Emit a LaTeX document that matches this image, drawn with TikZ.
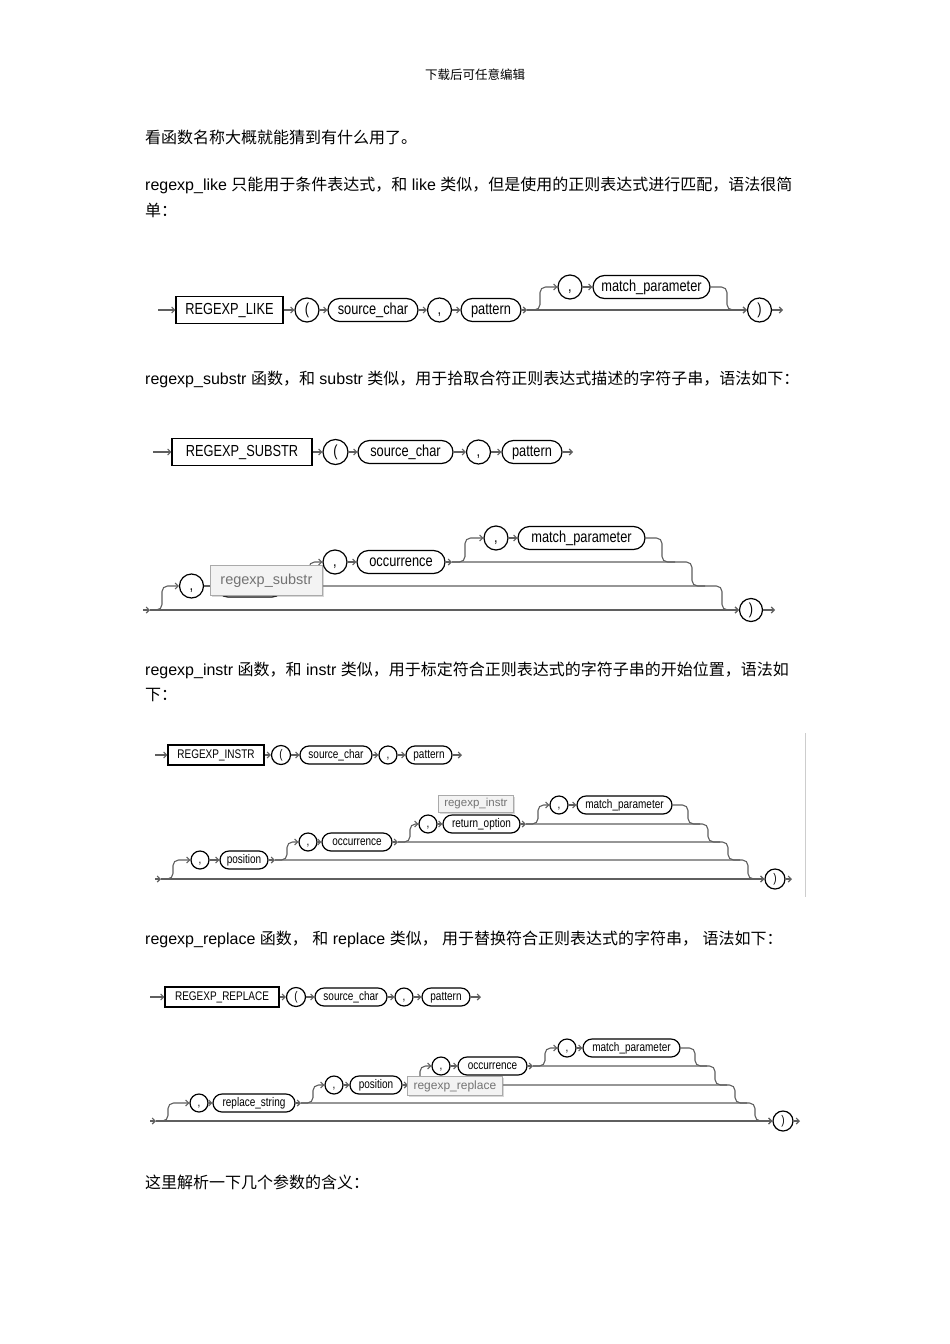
\documentclass[tikz,border=0pt]{standalone}
\usepackage{fontspec}
\setmainfont{Liberation Sans}
\newfontfamily\cjk{Noto Sans CJK SC}
\newfontfamily\rail[FakeStretch=0.8]{Liberation Sans}
\usetikzlibrary{arrows.meta}
\usetikzlibrary{shadows}
\definecolor{linegray}{RGB}{95,95,95}
\definecolor{tipfill}{RGB}{243,243,243}
\definecolor{tipedge}{RGB}{170,170,170}
\definecolor{tiptext}{RGB}{115,115,115}
\definecolor{rimgray}{RGB}{205,205,205}

\tikzset{
  para/.style={anchor=base west, inner sep=0pt, font=\fontsize{16}{19}\selectfont},
  bigrail/.style={font=\rail\fontsize{16}{16}\selectfont, text height=11.5pt, text depth=3.5pt},
  smallrail/.style={font=\rail\fontsize{12.5}{12.5}\selectfont, text height=9pt, text depth=2.8pt},
  kwbox/.style={draw, line width=1.1pt, inner sep=0pt},
  pill/.style={draw, line width=1.2pt, rounded corners=#1, inner sep=0pt},
  sym/.style={draw, line width=1.2pt, circle, inner sep=0pt},
  conn/.style={linegray, line width=1.1pt},
  arr/.style={conn, -{Straight Barb[length=3pt,width=6pt]}},
  turn/.style={rounded corners=5.5pt},
  tipbox/.style={fill=tipfill, draw=tipedge, line width=0.8pt, text=tiptext, inner sep=0pt,
    drop shadow={opacity=0.3, shadow xshift=2pt, shadow yshift=-2pt}},
}

\begin{document}
\begin{tikzpicture}[x=1pt, y=-1pt]

\path[fill=white] (0,0) rectangle (950,1344);

% page text
\node[anchor=base, inner sep=0pt, font=\cjk\fontsize{12.5}{14}\selectfont] (hdr) at (475,79) {下载后可任意编辑};
\node[para] (t1) at (145,143) {\cjk 看函数名称大概就能猜到有什么用了。};
\node[para] (t2) at (145,190) {regexp\_like {\cjk 只能用于条件表达式，和} like {\cjk 类似，但是使用的正则表达式进行匹配，语法很简}};
\node[para] (t3) at (145,216) {\cjk 单：};
\node[para] (t4) at (145,384) {regexp\_substr {\cjk 函数，和} substr {\cjk 类似，用于拾取合符正则表达式描述的字符子串，语法如下：}};
\node[para] (t5) at (145,675) {regexp\_instr {\cjk 函数，和} instr {\cjk 类似，用于标定符合正则表达式的字符子串的开始位置，语法如}};
\node[para] (t6) at (145,700) {\cjk 下：};
\node[para] (t7) at (145,944) {regexp\_replace {\cjk 函数，} {\cjk 和} replace {\cjk 类似，} {\cjk 用于替换符合正则表达式的字符串，} {\cjk 语法如下：}};
\node[para] (t8) at (145,1188) {\cjk 这里解析一下几个参数的含义：};

% regexp_like
\begin{scope}[every node/.append style={bigrail}]
\coordinate (likeIn) at (158,310);
\node[kwbox, minimum width=107pt, minimum height=27pt] (likeKw) at (229.5,310) {REGEXP\_LIKE};
\node[sym, minimum size=24pt] (likeLp) at (307,310) {(};
\node[pill=11.5pt, minimum width=90pt, minimum height=23pt] (likeSrc) at (373,310) {source\_char};
\node[sym, minimum size=24pt] (likeCm1) at (439.5,310) {,};
\node[pill=11.5pt, minimum width=60pt, minimum height=23pt] (likePat) at (491,310) {pattern};
\coordinate (likeSplit) at (527,310);
\coordinate (likeUp) at (540,287);
\node[sym, minimum size=24pt] (likeCm2) at (570,287) {,};
\node[pill=11.5pt, minimum width=117pt, minimum height=23pt] (likeMp) at (651.5,287) {match\_parameter};
\coordinate (likeDn) at (727,310);
\node[sym, minimum size=24pt] (likeRp) at (759.5,310) {)};
\coordinate (likeOut) at (783,310);
\end{scope}

\draw[arr] (likeIn) -- (likeKw);
\draw[arr] (likeKw) -- (likeLp);
\draw[arr] (likeLp) -- (likeSrc);
\draw[arr] (likeSrc) -- (likeCm1);
\draw[arr] (likeCm1) -- (likePat);
\draw[arr] (likePat) -- (likeSplit);
\draw[arr,turn] (likeSplit) -| (likeUp) -- (likeCm2);
\draw[arr] (likeCm2) -- (likeMp);
\draw[arr,turn] (likeMp) -| (likeDn) -- (likeRp);
\draw[arr] (likeSplit) -- (likeRp);
\draw[arr] (likeRp) -- (likeOut);

% regexp_substr
\begin{scope}[every node/.append style={bigrail}]
\coordinate (subIn) at (153,452);
\node[kwbox, minimum width=140pt, minimum height=27pt] (subKw) at (242,452) {REGEXP\_SUBSTR};
\node[sym, minimum size=25pt] (subLp) at (335.5,452) {(};
\node[pill=11.5pt, minimum width=95pt, minimum height=23pt] (subSrc) at (405.5,452) {source\_char};
\node[sym, minimum size=24pt] (subCm1) at (478.5,452) {,};
\node[pill=11.5pt, minimum width=60pt, minimum height=23pt] (subPat) at (532,452) {pattern};
\coordinate (subOut) at (573,452);

\coordinate (subIn2) at (143,610);
\coordinate (subS0) at (150,610);
\coordinate (subU1) at (162,586);
\node[sym, minimum size=24pt] (subCm2) at (191.5,586) {,};
\node[pill=11pt, minimum width=66pt, minimum height=22pt] (subPos) at (250,586) {position};
\coordinate (subS1) at (297,586);
\coordinate (subU2) at (309,562);
\node[sym, minimum size=24pt] (subCm3) at (335,562) {,};
\node[pill=11.5pt, minimum width=88pt, minimum height=23pt] (subOcc) at (401,562) {occurrence};
\coordinate (subS2) at (452,562);
\coordinate (subU3) at (465,538);
\node[sym, minimum size=24pt] (subCm4) at (496,538) {,};
\node[pill=11.5pt, minimum width=127pt, minimum height=23pt] (subMp) at (581.5,538) {match\_parameter};
\coordinate (subD3) at (662,562);
\coordinate (subJ2) at (675,562);
\coordinate (subD2) at (692,586);
\coordinate (subJ1) at (705,586);
\coordinate (subD1) at (722,610);
\node[sym, minimum size=23pt] (subRp) at (751,610) {)};
\coordinate (subOut2) at (775,610);
\end{scope}

\draw[arr] (subIn) -- (subKw);
\draw[arr] (subKw) -- (subLp);
\draw[arr] (subLp) -- (subSrc);
\draw[arr] (subSrc) -- (subCm1);
\draw[arr] (subCm1) -- (subPat);
\draw[arr] (subPat) -- (subOut);

\draw[arr] (subIn2) -- (subS0);
\draw[arr,turn] (subS0) -| (subU1) -- (subCm2);
\draw[arr] (subCm2) -- (subPos);
\draw[arr] (subPos) -- (subS1);
\draw[arr,turn] (subS1) -| (subU2) -- (subCm3);
\draw[arr] (subCm3) -- (subOcc);
\draw[arr] (subOcc) -- (subS2);
\draw[arr,turn] (subS2) -| (subU3) -- (subCm4);
\draw[arr] (subCm4) -- (subMp);
\draw[conn,turn] (subMp) -| (subD3) -- (subJ2);
\draw[conn,turn] (subS2) -| (subD2) -- (subJ1);
\draw[arr,turn] (subS1) -| (subD1) -- (subRp);
\draw[arr] (subS0) -- (subRp);
\draw[arr] (subRp) -- (subOut2);

\node[tipbox, anchor=north west, minimum width=112pt, minimum height=30pt,
  font=\fontsize{14.5}{15}\selectfont] (subTip) at (210,565) {regexp\_substr};

% regexp_instr
\begin{scope}[every node/.append style={smallrail}]
\coordinate (insIn) at (155,755);
\node[kwbox, minimum width=96pt, minimum height=20pt] (insKw) at (216,755) {REGEXP\_INSTR};
\node[sym, minimum size=19pt] (insLp) at (281,755) {(};
\node[pill=9pt, minimum width=72pt, minimum height=18pt] (insSrc) at (336,755) {source\_char};
\node[sym, minimum size=18pt] (insCm1) at (388,755) {,};
\node[pill=9pt, minimum width=46pt, minimum height=18pt] (insPat) at (429,755) {pattern};
\coordinate (insOut) at (462,755);

\coordinate (insIn2) at (155,879);
\coordinate (insS0) at (161,879);
\coordinate (insU1) at (173,860);
\node[sym, minimum size=18pt] (insCm2) at (200,860) {,};
\node[pill=9pt, minimum width=48pt, minimum height=18pt] (insPos) at (244,860) {position};
\coordinate (insS1) at (275,860);
\coordinate (insU2) at (287,842);
\node[sym, minimum size=18pt] (insCm3) at (308,842) {,};
\node[pill=9pt, minimum width=70pt, minimum height=18pt] (insOcc) at (357,842) {occurrence};
\coordinate (insS2) at (398,842);
\coordinate (insU3) at (410,824);
\node[sym, minimum size=18pt] (insCm4) at (428,824) {,};
\node[pill=9pt, minimum width=77pt, minimum height=18pt] (insRet) at (481.5,824) {return\_option};
\coordinate (insS3) at (526,824);
\coordinate (insU4) at (538,805);
\node[sym, minimum size=18pt] (insCm5) at (559,805) {,};
\node[pill=9pt, minimum width=95pt, minimum height=18pt] (insMp) at (624.5,805) {match\_parameter};
\coordinate (insD4) at (688,824);
\coordinate (insJ3) at (700,824);
\coordinate (insD3) at (708,842);
\coordinate (insJ2) at (720,842);
\coordinate (insD2) at (728,860);
\coordinate (insJ1) at (740,860);
\coordinate (insD1) at (748,879);
\node[sym, minimum size=20pt] (insRp) at (775,879) {)};
\coordinate (insOut2) at (792,879);
\end{scope}

\draw[arr] (insIn) -- (insKw);
\draw[arr] (insKw) -- (insLp);
\draw[arr] (insLp) -- (insSrc);
\draw[arr] (insSrc) -- (insCm1);
\draw[arr] (insCm1) -- (insPat);
\draw[arr] (insPat) -- (insOut);

\draw[arr] (insIn2) -- (insS0);
\draw[arr,turn] (insS0) -| (insU1) -- (insCm2);
\draw[arr] (insCm2) -- (insPos);
\draw[arr] (insPos) -- (insS1);
\draw[arr,turn] (insS1) -| (insU2) -- (insCm3);
\draw[arr] (insCm3) -- (insOcc);
\draw[arr] (insOcc) -- (insS2);
\draw[arr,turn] (insS2) -| (insU3) -- (insCm4);
\draw[arr] (insCm4) -- (insRet);
\draw[arr] (insRet) -- (insS3);
\draw[arr,turn] (insS3) -| (insU4) -- (insCm5);
\draw[arr] (insCm5) -- (insMp);
\draw[conn,turn] (insMp) -| (insD4) -- (insJ3);
\draw[conn,turn] (insS3) -| (insD3) -- (insJ2);
\draw[conn,turn] (insS2) -| (insD2) -- (insJ1);
\draw[arr,turn] (insS1) -| (insD1) -- (insRp);
\draw[arr] (insS0) -- (insRp);
\draw[arr] (insRp) -- (insOut2);

\node[tipbox, anchor=north west, minimum width=75pt, minimum height=17pt,
  font=\fontsize{11.5}{12}\selectfont] (insTip) at (438,795) {regexp\_instr};

\coordinate (rimTop) at (805,733);
\coordinate (rimBot) at (805,897);
\draw[rimgray, line width=0.8pt] (rimTop) -- (rimBot);

% regexp_replace
\begin{scope}[every node/.append style={smallrail}]
\coordinate (repIn) at (150,997);
\node[kwbox, minimum width=114pt, minimum height=20pt] (repKw) at (222,997) {REGEXP\_REPLACE};
\node[sym, minimum size=19pt] (repLp) at (296,997) {(};
\node[pill=9pt, minimum width=72pt, minimum height=18pt] (repSrc) at (351,997) {source\_char};
\node[sym, minimum size=18pt] (repCm1) at (404,997) {,};
\node[pill=9pt, minimum width=48pt, minimum height=18pt] (repPat) at (446,997) {pattern};
\coordinate (repOut) at (481,997);

\coordinate (repIn2) at (150,1121);
\coordinate (repS0) at (156,1121);
\coordinate (repU1) at (168,1103);
\node[sym, minimum size=18pt] (repCm2) at (199,1103) {,};
\node[pill=9pt, minimum width=82pt, minimum height=18pt] (repStr) at (254,1103) {replace\_string};
\coordinate (repS1) at (301,1103);
\coordinate (repU2) at (313,1085);
\node[sym, minimum size=18pt] (repCm3) at (334,1085) {,};
\node[pill=9pt, minimum width=52pt, minimum height=18pt] (repPos) at (376,1085) {position};
\coordinate (repS2) at (408,1085);
\coordinate (repU3) at (420,1066);
\node[sym, minimum size=18pt] (repCm4) at (441,1066) {,};
\node[pill=9pt, minimum width=69pt, minimum height=18pt] (repOcc) at (492.5,1066) {occurrence};
\coordinate (repS3) at (533,1066);
\coordinate (repU4) at (545,1048);
\node[sym, minimum size=18pt] (repCm5) at (567,1048) {,};
\node[pill=9pt, minimum width=97pt, minimum height=18pt] (repMp) at (631.5,1048) {match\_parameter};
\coordinate (repD4) at (695,1066);
\coordinate (repJ3) at (707,1066);
\coordinate (repD3) at (715,1085);
\coordinate (repJ2) at (727,1085);
\coordinate (repD2) at (735,1103);
\coordinate (repJ1) at (747,1103);
\coordinate (repD1) at (755,1121);
\node[sym, minimum size=20pt] (repRp) at (783,1121) {)};
\coordinate (repOut2) at (800,1121);
\end{scope}

\draw[arr] (repIn) -- (repKw);
\draw[arr] (repKw) -- (repLp);
\draw[arr] (repLp) -- (repSrc);
\draw[arr] (repSrc) -- (repCm1);
\draw[arr] (repCm1) -- (repPat);
\draw[arr] (repPat) -- (repOut);

\draw[arr] (repIn2) -- (repS0);
\draw[arr,turn] (repS0) -| (repU1) -- (repCm2);
\draw[arr] (repCm2) -- (repStr);
\draw[arr] (repStr) -- (repS1);
\draw[arr,turn] (repS1) -| (repU2) -- (repCm3);
\draw[arr] (repCm3) -- (repPos);
\draw[arr] (repPos) -- (repS2);
\draw[arr,turn] (repS2) -| (repU3) -- (repCm4);
\draw[arr] (repCm4) -- (repOcc);
\draw[arr] (repOcc) -- (repS3);
\draw[arr,turn] (repS3) -| (repU4) -- (repCm5);
\draw[arr] (repCm5) -- (repMp);
\draw[conn,turn] (repMp) -| (repD4) -- (repJ3);
\draw[conn,turn] (repS3) -| (repD3) -- (repJ2);
\draw[conn,turn] (repS2) -| (repD2) -- (repJ1);
\draw[arr,turn] (repS1) -| (repD1) -- (repRp);
\draw[arr] (repS0) -- (repRp);
\draw[arr] (repRp) -- (repOut2);

\node[tipbox, anchor=north west, minimum width=95pt, minimum height=19pt,
  font=\fontsize{12}{12}\selectfont] (repTip) at (407,1076) {regexp\_replace};

\end{tikzpicture}
\end{document}
